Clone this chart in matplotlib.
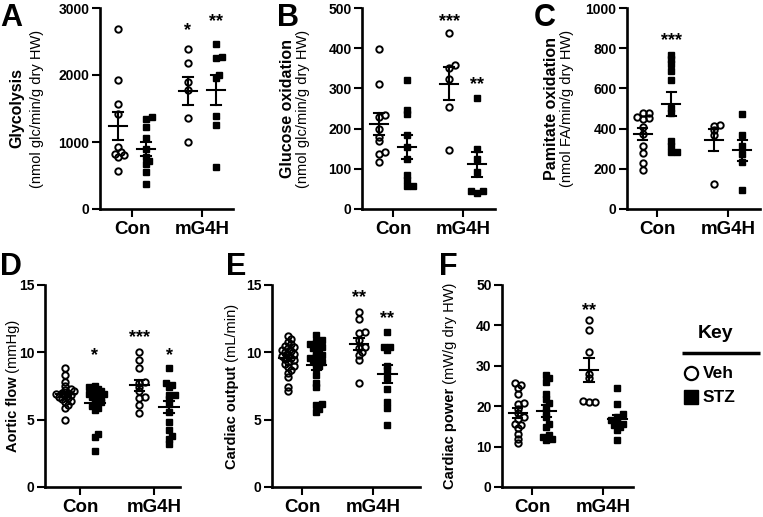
import numpy as np
import matplotlib
matplotlib.use("Agg")
import matplotlib.pyplot as plt
import matplotlib.transforms as mtrans

plt.rcParams['font.family'] = ['Liberation Sans', 'DejaVu Sans']

W, H = 763, 517
GROUPS = ["Con", "mG4H"]

# ---- data ----
# A: glycolysis
a_con_veh = [2680, 1920, 1560, 1420, 930, 850, 820, 800, 780, 570]
a_con_stz = [1380, 1350, 1220, 1060, 890, 770, 710, 670, 550, 370]
a_g4h_veh = [2387, 2178, 1889, 1769, 1355, 1007]
a_g4h_stz = [2462, 2267, 2252, 2003, 1953, 1390, 1256, 633]
# B: glucose oxidation
b_con_veh = [399, 312, 235, 230, 200, 180, 168, 142, 136, 117]
b_con_stz = [321, 247, 237, 184, 155, 124, 85, 72, 58, 58]
b_g4h_veh = [439, 357, 351, 324, 253, 147]
b_g4h_stz = [277, 149, 124, 93, 46, 46, 41]
# C: palmitate oxidation
c_con_veh = [480, 477, 457, 452, 448, 407, 374, 314, 277, 228, 194]
c_con_stz = [767, 746, 722, 688, 643, 502, 477, 336, 311, 286, 286]
c_g4h_veh = [419, 414, 394, 369, 125]
c_g4h_stz = [472, 369, 311, 274, 233, 95]
# D: aortic flow
d_con_veh = [8.8, 8.3, 7.8, 7.5, 7.3, 7.2, 7.1, 7.0, 7.0, 6.9,
             6.8, 6.8, 6.7, 6.6, 6.5, 6.4, 6.3, 6.1, 5.9, 5.0]
d_con_stz = [7.5, 7.4, 7.3, 7.2, 7.1, 7.0, 6.9, 6.9, 6.8, 6.7,
             6.6, 6.5, 6.3, 6.2, 6.0, 5.9, 5.7, 3.9, 3.7, 2.7]
d_g4h_veh = [10.0, 9.4, 8.8, 7.8, 7.7, 7.4, 7.1, 6.7, 6.6, 6.1, 5.5]
d_g4h_stz = [8.8, 7.7, 7.6, 7.4, 6.8, 6.8, 6.5, 6.2, 5.6, 4.8, 4.2, 3.8, 3.6, 3.2]
# E: cardiac output
e_con_veh = [11.2, 11.0, 10.8, 10.6, 10.5, 10.4, 10.3, 10.2, 10.1, 10.0,
             9.9, 9.8, 9.7, 9.6, 9.5, 9.4, 9.3, 9.1, 9.0, 8.9,
             8.7, 8.5, 8.2, 7.4, 7.1]
e_con_stz = [11.3, 10.9, 10.8, 10.6, 10.5, 10.4, 10.3, 10.2, 10.0, 9.8,
             9.7, 9.6, 9.5, 9.4, 9.3, 9.2, 9.0, 8.8, 8.3, 7.7,
             7.4, 6.2, 6.1, 5.8, 5.6]
e_g4h_veh = [13.0, 12.5, 11.5, 11.4, 10.9, 10.4, 10.3, 10.0, 9.8, 9.4, 7.7]
e_g4h_stz = [11.5, 10.4, 10.4, 10.2, 9.0, 8.7, 8.1, 7.3, 6.3, 5.9, 4.6]
# F: cardiac power
f_con_veh = [25.8, 25.2, 24.4, 23.1, 20.7, 20.5, 19.4, 18.2, 17.4, 16.9,
             15.7, 15.3, 14.5, 13.2, 12.0, 10.9]
f_con_stz = [27.7, 26.9, 26.0, 23.1, 21.9, 20.7, 19.8, 18.6, 17.4, 15.7,
             14.9, 12.8, 12.4, 12.0, 11.6]
f_g4h_veh = [41.3, 38.8, 33.5, 28.0, 27.0, 21.2, 21.0, 21.0]
f_g4h_stz = [24.6, 20.5, 18.0, 17.4, 16.5, 16.1, 15.7, 15.3, 14.9, 14.0, 11.6]

# significance marks: (group index, 0=Veh / 1=STZ, label, y)
a_stars = [(1, 0, "*", 2750), (1, 1, "**", 2885)]
b_stars = [(1, 0, "***", 481), (1, 1, "**", 324)]
c_stars = [(0, 1, "***", 867)]
d_stars = [(0, 1, "*", 10.2), (1, 0, "***", 11.5), (1, 1, "*", 10.2)]
e_stars = [(1, 0, "**", 14.5), (1, 1, "**", 12.9)]
f_stars = [(1, 0, "**", 45.0)]

panels = [
    dict(letter="A", box=(100, 8, 233, 209), xlim=(0.543, 2.443),
         yticks=[0, 1000, 2000, 3000],
         data=[a_con_veh, a_con_stz, a_g4h_veh, a_g4h_stz], stars=a_stars,
         bold="Glycolysis", sub="(nmol glc/min/g dry HW)", lab_dx=(-83, -63),
         letter_xy=(0, 3)),
    dict(letter="B", box=(362, 8, 495, 209), xlim=(0.557, 2.457),
         yticks=[0, 100, 200, 300, 400, 500],
         data=[b_con_veh, b_con_stz, b_g4h_veh, b_g4h_stz], stars=b_stars,
         bold="Glucose oxidation", sub="(nmol glc/min/g dry HW)", lab_dx=(-74, -59),
         letter_xy=(277, 3)),
    dict(letter="C", box=(627, 8, 760, 209), xlim=(0.577, 2.45),
         yticks=[0, 200, 400, 600, 800, 1000],
         data=[c_con_veh, c_con_stz, c_g4h_veh, c_g4h_stz], stars=c_stars,
         bold="Pamitate oxidation", sub="(nmol FA/min/g dry HW)", lab_dx=(-75, -60),
         letter_xy=(534, 3)),
    dict(letter="D", box=(45, 285, 180, 487), xlim=(0.528, 2.347),
         yticks=[0, 5, 10, 15],
         data=[d_con_veh, d_con_stz, d_g4h_veh, d_g4h_stz], stars=d_stars,
         bold="Aortic flow", sub=" (mmHg)", lab_dx=(-32,),
         letter_xy=(0, 252)),
    dict(letter="E", box=(272, 285, 420, 487), xlim=(0.577, 2.66),
         yticks=[0, 5, 10, 15],
         data=[e_con_veh, e_con_stz, e_g4h_veh, e_g4h_stz], stars=e_stars,
         bold="Cardiac output", sub=" (mL/min)", lab_dx=(-40,),
         letter_xy=(226, 252)),
    dict(letter="F", box=(502, 285, 633, 487), xlim=(0.577, 2.42),
         yticks=[0, 10, 20, 30, 40, 50],
         data=[f_con_veh, f_con_stz, f_g4h_veh, f_g4h_stz], stars=f_stars,
         bold="Cardiac power", sub=" (mW/g dry HW)", lab_dx=(-52,),
         letter_xy=(439, 252)),
]

OFFSET = 0.2      # Veh / STZ shift from the category tick


def swarm(ypix, dist=4.0, step=3.0):
    """simple beeswarm: horizontal pixel offsets so points do not pile up"""
    order = np.argsort(ypix)
    placed = []
    offs = np.zeros(len(ypix))
    for i in order:
        k = 0
        while True:
            cands = [0.0] if k == 0 else [k * step, -k * step]
            done = False
            for c in cands:
                if all((c - px) ** 2 + (ypix[i] - py) ** 2 >= dist ** 2 for px, py in placed):
                    offs[i] = c
                    placed.append((c, ypix[i]))
                    done = True
                    break
            if done:
                break
            k += 1
    return offs


fig = plt.figure(figsize=(W / 100, H / 100), dpi=100)
renderer = fig.canvas.get_renderer()

for p in panels:
    l, t, r, b = p["box"]
    ax = fig.add_axes([l / W, 1 - b / H, (r - l) / W, (b - t) / H])
    ax.set_xlim(*p["xlim"])
    ax.set_ylim(p["yticks"][0], p["yticks"][-1])
    ax.set_yticks(p["yticks"])
    ax.set_xticks([1, 2])
    ax.set_xticklabels(GROUPS)
    for s in ["top", "right"]:
        ax.spines[s].set_visible(False)
    for s in ["left", "bottom"]:
        ax.spines[s].set_linewidth(1.9)
    ax.tick_params(axis="y", length=6, width=1.5, pad=1.5, labelsize=10)
    ax.tick_params(axis="x", length=6, width=1.5, pad=3, labelsize=13.5)
    for lab in ax.get_xticklabels() + ax.get_yticklabels():
        lab.set_fontweight("bold")

    px_per_unit = ax.transData.transform((1, 0))[0] - ax.transData.transform((0, 0))[0]
    for gi, vals in enumerate(p["data"]):
        cat = 1 + gi // 2
        is_stz = gi % 2 == 1
        xc = cat + (OFFSET if is_stz else -OFFSET)
        vals = np.asarray(vals, dtype=float)
        ypix = ax.transData.transform(np.column_stack([np.full(len(vals), xc), vals]))[:, 1]
        xs = xc + swarm(ypix) / px_per_unit
        if is_stz:
            ax.plot(xs, vals, "s", ms=4.6, mfc="black", mec="black", clip_on=False, zorder=3)
        else:
            ax.plot(xs, vals, "o", ms=4.6, mfc="none", mec="black", mew=1.4, clip_on=False, zorder=3)
        m = vals.mean()
        sem = vals.std(ddof=1) / np.sqrt(len(vals))
        ax.plot([xc - 0.13, xc + 0.13], [m, m], color="black", lw=1.5, zorder=4)
        ax.plot([xc, xc], [m - sem, m + sem], color="black", lw=1.5, zorder=4)
        for yy in (m - sem, m + sem):
            ax.plot([xc - 0.065, xc + 0.065], [yy, yy], color="black", lw=1.5, zorder=4)

    star_tr = mtrans.offset_copy(ax.transData, fig=fig, y=-4, units="points")
    for cat_i, grp, lab, yv in p["stars"]:
        xc = 1 + cat_i + (OFFSET if grp else -OFFSET)
        ax.text(xc, yv, lab, transform=star_tr, ha="center", va="center",
                fontsize=13, fontweight="bold", clip_on=False)

    # panel letter
    lx, ly = p["letter_xy"]
    fig.text(lx / W, 1 - ly / H, p["letter"], fontsize=22, fontweight="bold",
             ha="left", va="top")

    # y labels
    yc = 1 - (t + b) / 2 / H
    if len(p["lab_dx"]) == 2:
        fig.text((l + p["lab_dx"][0]) / W, yc, p["bold"], rotation=90,
                 ha="center", va="center", fontsize=11.5, fontweight="bold")
        fig.text((l + p["lab_dx"][1]) / W, yc, p["sub"], rotation=90,
                 ha="center", va="center", fontsize=10.5)
    else:
        x = (l + p["lab_dx"][0]) / W
        t1 = fig.text(x, 0, p["bold"], rotation=90, rotation_mode="anchor",
                      ha="left", va="center", fontsize=10.5, fontweight="bold")
        t2 = fig.text(x, 0, p["sub"], rotation=90, rotation_mode="anchor",
                      ha="left", va="center", fontsize=10.5)
        h1 = t1.get_window_extent(renderer).height
        h2 = t2.get_window_extent(renderer).height
        y0 = (H - (t + b) / 2) - (h1 + h2) / 2
        t1.set_position((x, y0 / H))
        t2.set_position((x, (y0 + h1) / H))

# ---- key ----
key = fig.add_axes([0, 0, 1, 1])
key.set_xlim(0, W)
key.set_ylim(H, 0)
key.axis("off")
key.text(716, 333, "Key", ha="center", va="center", fontsize=14, fontweight="bold")
key.plot([682, 760], [353, 353], color="black", lw=2.5, solid_capstyle="butt")
key.plot([691], [373], "o", ms=9.5, mfc="none", mec="black", mew=1.6)
key.plot([691], [397], "s", ms=9.5, mfc="black", mec="black")
key.text(703, 373, "Veh", ha="left", va="center", fontsize=12.5, fontweight="bold")
key.text(703, 397, "STZ", ha="left", va="center", fontsize=12.5, fontweight="bold")

fig.savefig("out.png", dpi=100)
